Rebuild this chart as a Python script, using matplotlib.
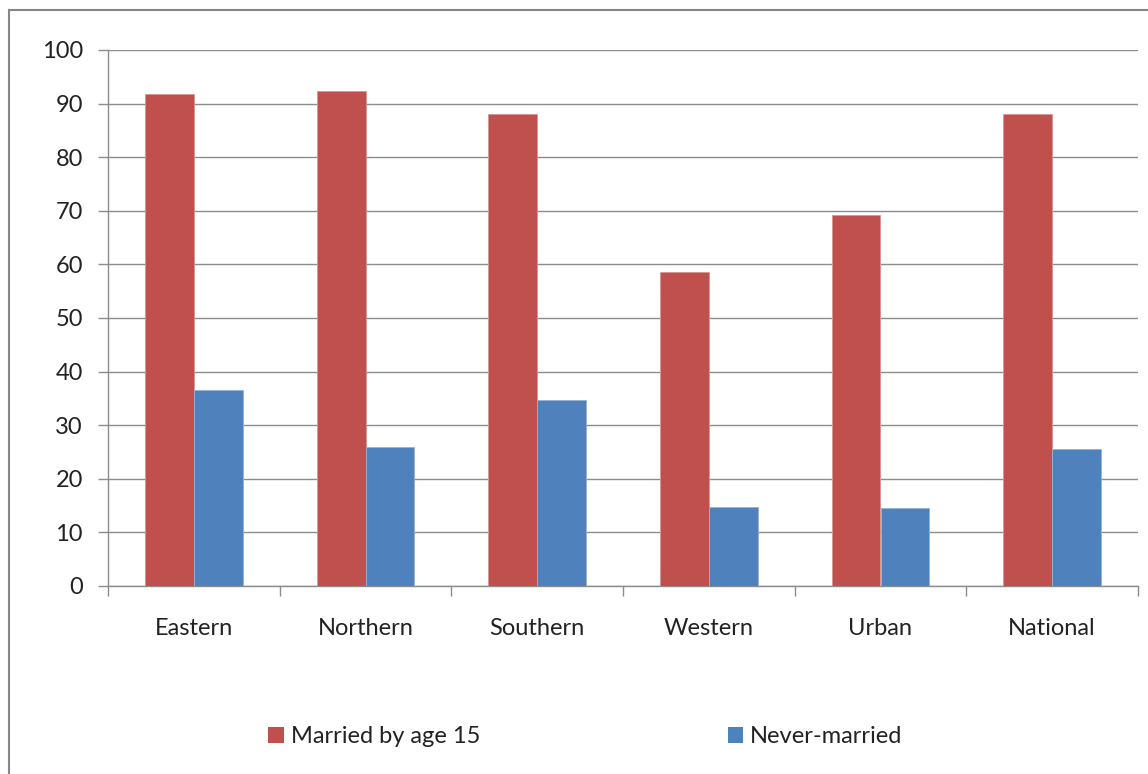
import matplotlib as mpl
mpl.use("Agg")
import matplotlib.pyplot as plt
import numpy as np
from matplotlib.patches import Patch, Rectangle

plt.rcParams["font.family"] = ["Lato", "DejaVu Sans"]

# ─── Data ────────────────────────────────────────────────────────────────────
regions = ["Eastern", "Northern", "Southern", "Western", "Urban", "National"]
married_by_15 = [91.7, 92.4, 88.1, 58.6, 69.2, 88.1]
never_married = [36.6, 25.9, 34.7, 14.7, 14.6, 25.5]
series_labels = ["Married by age 15", "Never-married"]

COL_RED = "#C0504D"
COL_BLUE = "#4F81BD"
COL_GRID = "#8C8C8C"
FS = 17

fig = plt.figure(figsize=(11.48, 7.74), dpi=100)
fig.patch.set_facecolor("white")

# outer chart-area border (cut off on right/bottom like the original)
fig.patches.append(Rectangle((9 / 1148, -0.05), 1.2, 1 - 10 / 774 + 0.05,
                             transform=fig.transFigure, fill=False,
                             edgecolor="#868686", linewidth=1.5))

ax = fig.add_axes([108 / 1148, 188 / 774, 1030 / 1148, 536 / 774])

x = np.arange(len(regions))
w = 0.285
ax.bar(x - w / 2, married_by_15, width=w, color=COL_RED,
       edgecolor="#D99694", linewidth=0.6, zorder=3)
ax.bar(x + w / 2, never_married, width=w, color=COL_BLUE,
       edgecolor="#95B3D7", linewidth=0.6, zorder=3)

ax.set_xlim(-0.5, len(regions) - 0.5)
ax.set_ylim(0, 100)
ax.set_yticks(np.arange(0, 101, 10))
ax.yaxis.grid(True, color=COL_GRID, linewidth=1.0)
ax.set_axisbelow(True)

for s in ["top", "right"]:
    ax.spines[s].set_visible(False)
for s in ["left", "bottom"]:
    ax.spines[s].set_color(COL_GRID)
    ax.spines[s].set_linewidth(1.0)

ax.set_xticks(x)
ax.set_xticklabels(regions)
ax.set_xticks(np.arange(-0.5, len(regions), 1.0), minor=True)
ax.tick_params(axis="x", which="major", length=0, pad=23, labelsize=FS,
               labelcolor="#222222")
ax.tick_params(axis="x", which="minor", length=7, width=1.0, color=COL_GRID,
               direction="out")
ax.tick_params(axis="y", length=7, width=1.0, color=COL_GRID, pad=11,
               labelsize=FS, labelcolor="#222222")

handles = [Patch(facecolor=COL_RED, edgecolor="none", label=series_labels[0]),
           Patch(facecolor=COL_BLUE, edgecolor="none", label=series_labels[1])]
fig.legend(handles=handles, loc="center", bbox_to_anchor=(0.51, 0.048),
           ncol=2, frameon=False, fontsize=FS, handlelength=0.65,
           handleheight=0.65, handletextpad=0.3, columnspacing=10.5,
           labelcolor="#222222")

fig.savefig("out.png", dpi=100, facecolor="white")
